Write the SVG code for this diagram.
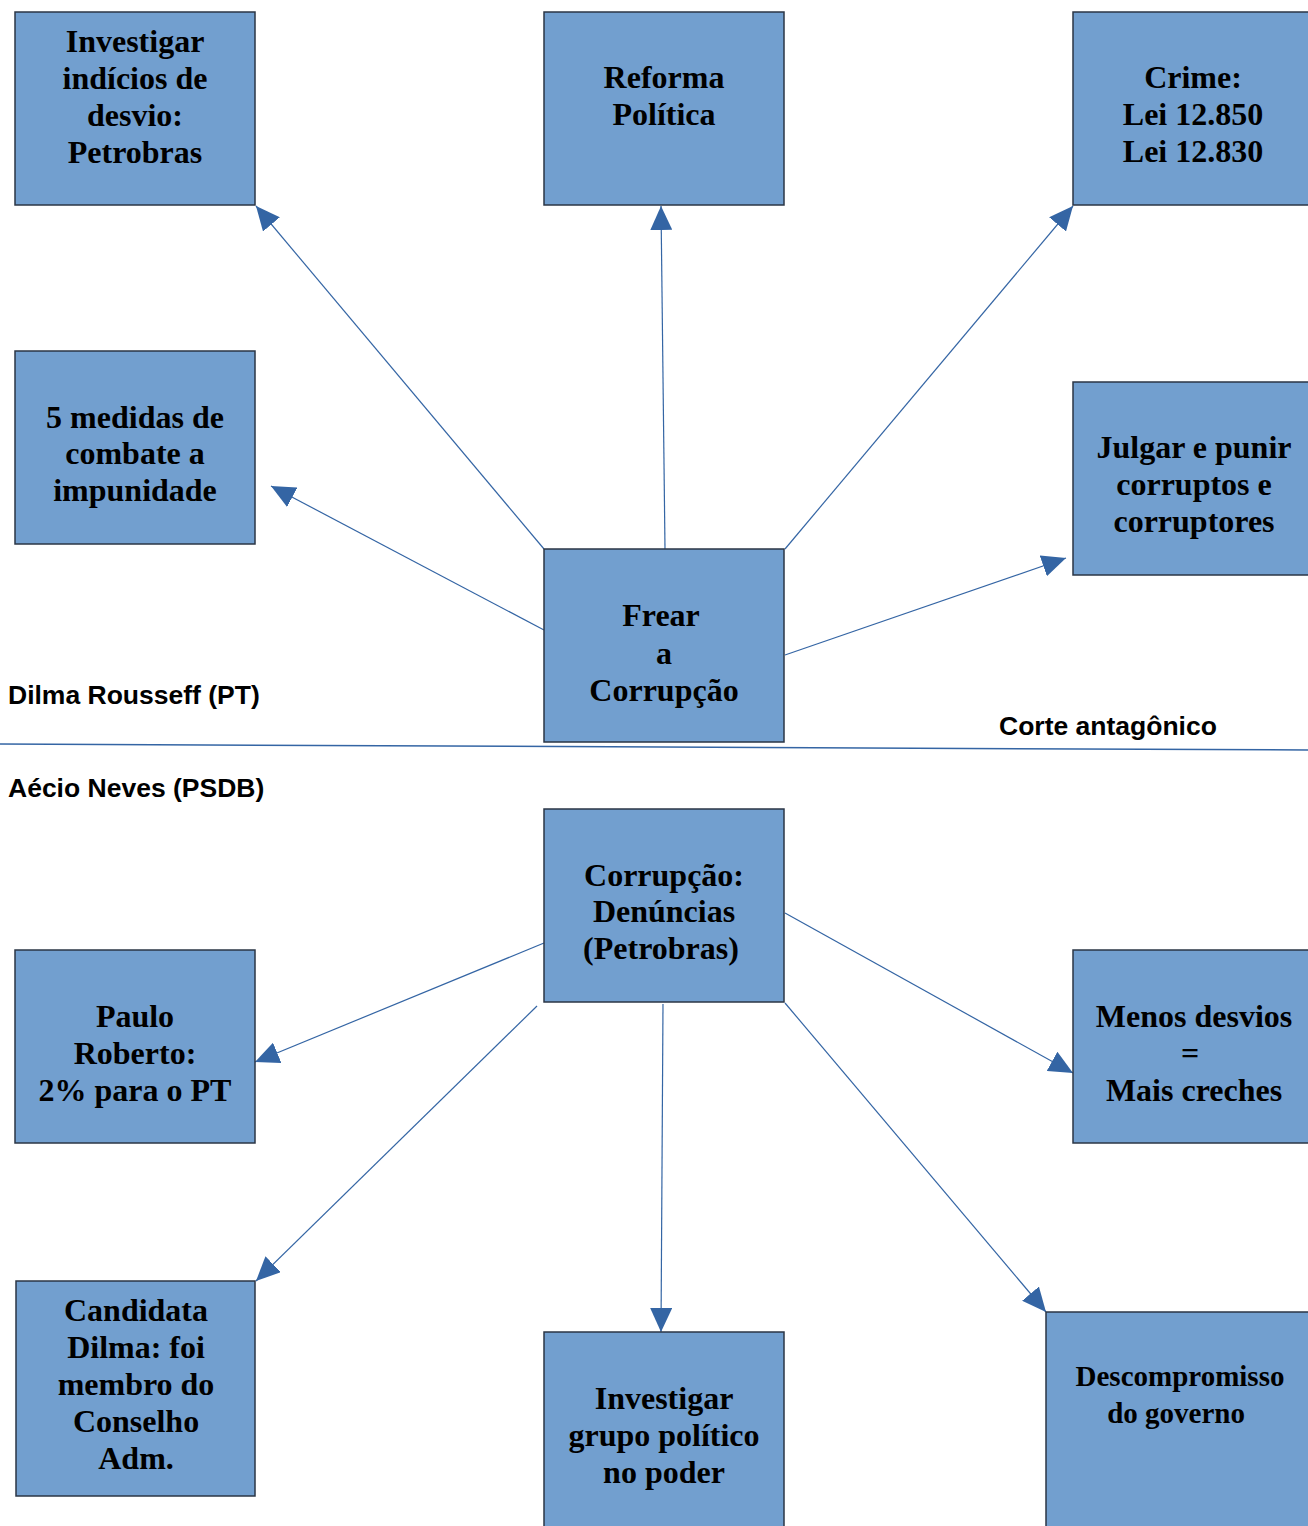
<svg xmlns="http://www.w3.org/2000/svg" width="1308" height="1526" viewBox="0 0 1308 1526">
<style>
.box{fill:#729fcf;stroke:#2b3646;stroke-width:1.5}
.t{font-family:"Liberation Serif",serif;font-weight:bold;font-size:32px;fill:#000;text-anchor:middle}
.s{font-size:29px}
.lbl{font-family:"Liberation Sans",Arial,sans-serif;font-weight:bold;font-size:26.5px;fill:#000}
.c{stroke:#3465a4;stroke-width:1.2;fill:none;marker-end:url(#ah)}
</style>
<defs>
<marker id="ah" markerUnits="userSpaceOnUse" markerWidth="26" markerHeight="22" refX="24" refY="11" orient="auto">
<path d="M0,0 L24,11 L0,22 Z" fill="#3465a4"/>
</marker>
</defs>
<rect width="1308" height="1526" fill="#fff"/>
<line x1="0" y1="744" x2="1308" y2="750" stroke="#3465a4" stroke-width="1.5"/>
<text class="lbl" x="8" y="704">Dilma Rousseff (PT)</text>
<text class="lbl" x="8" y="797">Aécio Neves (PSDB)</text>
<text class="lbl" x="999" y="735">Corte antagônico</text>
<g id="connectors">
<line class="c" x1="544" y1="549" x2="256" y2="206"/>
<line class="c" x1="665" y1="549" x2="661" y2="206"/>
<line class="c" x1="785" y1="549" x2="1073" y2="206"/>
<line class="c" x1="544" y1="630" x2="271" y2="486"/>
<line class="c" x1="785" y1="655" x2="1066" y2="558"/>
<line class="c" x1="544" y1="943" x2="255" y2="1062"/>
<line class="c" x1="537" y1="1006" x2="256" y2="1281"/>
<line class="c" x1="663" y1="1004" x2="661" y2="1332"/>
<line class="c" x1="785" y1="1003" x2="1046" y2="1312"/>
<line class="c" x1="785" y1="913" x2="1073" y2="1073"/>
</g>
<g id="n1"><rect class="box" x="15" y="12" width="240" height="193"/>
<text class="t" x="135"><tspan x="135" y="52">Investigar</tspan><tspan x="135" y="89">indícios de</tspan><tspan x="135" y="126">desvio:</tspan><tspan x="135" y="163">Petrobras</tspan></text></g>
<g id="n2"><rect class="box" x="544" y="12" width="240" height="193"/>
<text class="t"><tspan x="664" y="88">Reforma</tspan><tspan x="664" y="125">Política</tspan></text></g>
<g id="n3"><rect class="box" x="1073" y="12" width="240" height="193"/>
<text class="t"><tspan x="1193" y="88">Crime:</tspan><tspan x="1193" y="125">Lei 12.850</tspan><tspan x="1193" y="162">Lei 12.830</tspan></text></g>
<g id="n4"><rect class="box" x="15" y="351" width="240" height="193"/>
<text class="t"><tspan x="135" y="428">5 medidas de</tspan><tspan x="135" y="464">combate a</tspan><tspan x="135" y="501">impunidade</tspan></text></g>
<g id="n5"><rect class="box" x="1073" y="382" width="240" height="193"/>
<text class="t"><tspan x="1194" y="458">Julgar e punir</tspan><tspan x="1194" y="495">corruptos e</tspan><tspan x="1194" y="532">corruptores</tspan></text></g>
<g id="n6"><rect class="box" x="544" y="549" width="240" height="193"/>
<text class="t"><tspan x="661" y="626">Frear</tspan><tspan x="664" y="664">a</tspan><tspan x="664" y="701">Corrupção</tspan></text></g>
<g id="n7"><rect class="box" x="544" y="809" width="240" height="193"/>
<text class="t"><tspan x="664" y="886">Corrupção:</tspan><tspan x="664" y="922">Denúncias</tspan><tspan x="661" y="959">(Petrobras)</tspan></text></g>
<g id="n8"><rect class="box" x="15" y="950" width="240" height="193"/>
<text class="t"><tspan x="135" y="1027">Paulo</tspan><tspan x="135" y="1064">Roberto:</tspan><tspan x="135" y="1101">2% para o PT</tspan></text></g>
<g id="n9"><rect class="box" x="1073" y="950" width="240" height="193"/>
<text class="t"><tspan x="1194" y="1027">Menos desvios</tspan><tspan x="1190" y="1064">=</tspan><tspan x="1194" y="1101">Mais creches</tspan></text></g>
<g id="n10"><rect class="box" x="16" y="1281" width="239" height="215"/>
<text class="t"><tspan x="136" y="1321">Candidata</tspan><tspan x="136" y="1358">Dilma: foi</tspan><tspan x="136" y="1395">membro do</tspan><tspan x="136" y="1432">Conselho</tspan><tspan x="136" y="1469">Adm.</tspan></text></g>
<g id="n11"><rect class="box" x="544" y="1332" width="240" height="200"/>
<text class="t"><tspan x="664" y="1409">Investigar</tspan><tspan x="664" y="1446">grupo político</tspan><tspan x="664" y="1483">no poder</tspan></text></g>
<g id="n12"><rect class="box" x="1046" y="1312" width="270" height="220"/>
<text class="t s"><tspan x="1180" y="1386">Descompromisso</tspan><tspan x="1176" y="1423">do governo</tspan></text></g>
</svg>
